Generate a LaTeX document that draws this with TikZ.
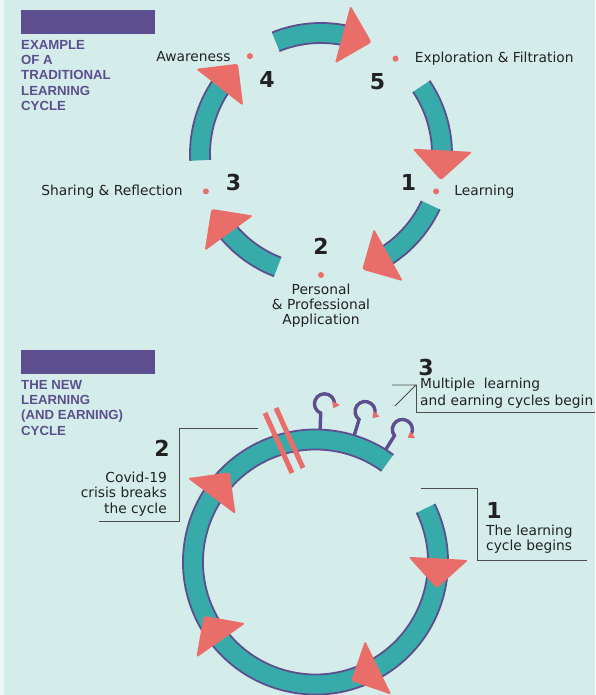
\documentclass[tikz,border=0pt]{standalone}
\usepackage{fontspec}
\setmainfont{DejaVu Sans}
\newfontfamily\headfont{Liberation Sans}
\usetikzlibrary{positioning, arrows.meta}

\definecolor{paper}{HTML}{D4EDEB}
\definecolor{ringteal}{HTML}{37ABAA}
\definecolor{rimpurple}{HTML}{5C4E8F}
\definecolor{coral}{HTML}{E96E6A}
\definecolor{ink}{HTML}{222222}
\definecolor{leadgray}{HTML}{4D4D4D}

\tikzset{
  band/.style={fill=ringteal},
  rim/.style={draw=rimpurple, line width=1.8pt},
  tiphead/.style={fill=coral, rounded corners=2.5pt},
  spot/.style={circle, fill=coral, inner sep=0pt, minimum size=6pt},
  lbl/.style={inner sep=0pt, text=ink, font=\fontsize{13.8}{15.5}\selectfont},
  num/.style={inner sep=0pt, text=ink, font=\fontsize{22}{24}\selectfont\bfseries},
  heading/.style={inner sep=0pt, text=rimpurple, align=left, font=\headfont\fontsize{13.2}{15.3}\selectfont\bfseries},
  titlebar/.style={fill=rimpurple},
  leader/.style={draw=leadgray, line width=0.9pt},
  breakmark/.style={draw=coral, line width=5pt},
  stem/.style={draw=rimpurple, line width=3.4pt, -{Triangle[length=6pt,width=8pt,color=coral]}},
}

\begin{document}
\begin{tikzpicture}[x=1pt, y=1pt]
\useasboundingbox (0,0) rectangle (595,695);
\fill[paper] (0,0) rectangle (595,695);
\fill[white!55!paper] (0,0) rectangle (4,695);

% traditional cycle
\fill[titlebar] (21,661) rectangle (155,685);
\node[heading, anchor=north west] (head1) at (21,655) {EXAMPLE\\OF A\\TRADITIONAL\\LEARNING\\CYCLE};

\begin{scope}[shift={(321,541)}]
  \def \ro {131}
  \def \ri {111}
  \def \rm {121}
  \foreach \s/\e in {-25/-61, -111/-144, 183/142, 112/75, 34/-3}
  {
    \fill[band] (\s:\ro) arc (\s:\e:\ro) -- (\e:\ri) arc (\e:\s:\ri) -- cycle;
    \draw[rim] (\s:\ro) arc (\s:\e:\ro);
    \draw[rim] (\s:\ri) arc (\s:\e:\ri);
    \fill[tiphead, shift={(\e:\rm)}, rotate=\e-90] (20,0) -- (-10,30) -- (-10,-30) -- cycle;
  }
  \foreach \i/\a in {1/-18, 2/-90, 3/198, 4/126, 5/52}
  {
    \node[spot] (d\i) at (\a:\rm) {};
    \node[num] (n\i) at (\a:92) {\i};
  }
\end{scope}

\node[lbl, left=16pt of d4] (awareness) {Awareness};
\node[lbl, right=16pt of d5] (exploration) {Exploration \& Filtration};
\node[lbl, right=15pt of d1] (learning) {Learning};
\node[lbl, left=20pt of d3] (sharing) {Sharing \& Reflection};
\node[lbl, below=6pt of d2, align=center, font=\fontsize{13.8}{15}\selectfont] (applying) {Personal\\\& Professional\\Application};

% new cycle
\fill[titlebar] (21,321) rectangle (155,345);
\node[heading, anchor=north west] (head2) at (21,315) {THE NEW\\LEARNING\\(AND EARNING)\\CYCLE};

\begin{scope}[shift={(315.5,133)}]
  \def \ro {132.5}
  \def \ri {112.5}
  \def \rm {122.5}
  \foreach \a in {88, 73, 58}
    \draw[stem, rotate=\a-90] (0,130) -- (0,149) arc (250:-25:10);
  \fill[band] (26:\ro) arc (26:-306:\ro) -- (-306:\ri) arc (-306:26:\ri) -- cycle;
  \draw[rim] (26:\ro) arc (26:-306:\ro);
  \draw[rim] (26:\ri) arc (26:-306:\ri);
  \foreach \e in {-3, -64, -145, -217}
    \fill[tiphead, shift={(\e:\rm)}, rotate=\e-90] (20,0) -- (-10,30) -- (-10,-30) -- cycle;
  \draw[breakmark] (-50.5,149) -- (-23.5,89);
  \draw[breakmark] (-39.5,154) -- (-12.5,94);
\end{scope}

\node[num] (m2) at (162,247) {2};
\node[lbl, align=right, anchor=east] (t2) at (167,201) {Covid-19\\crisis breaks\\the cycle};
\coordinate (l2a) at (258,267);
\coordinate (l2c) at (179,267);
\coordinate (l2b) at (99,174);
\draw[leader] (l2a) -- (l2c) |- (l2b);

\node[num] (m3) at (426,328) {3};
\node[lbl, align=left, anchor=west, font=\fontsize{13.8}{17}\selectfont] (t3) at (420,301.5) {Multiple\ \ learning\\and earning cycles begin};
\coordinate (l3a) at (392,310);
\coordinate (l3c) at (416,310);
\coordinate (l3d) at (395,289);
\coordinate (l3b) at (595,283);
\draw[leader] (l3a) -- (l3c) -- (l3d);
\draw[leader] (l3c) |- (l3b);

\node[num] (m1) at (494,185) {1};
\node[lbl, align=left, anchor=west, font=\fontsize{13.8}{15}\selectfont] (t1) at (486,155.5) {The learning\\cycle begins};
\coordinate (l1a) at (421,207);
\coordinate (l1c) at (477,207);
\coordinate (l1b) at (587,135);
\draw[leader] (l1a) -- (l1c) |- (l1b);
\end{tikzpicture}
\end{document}
